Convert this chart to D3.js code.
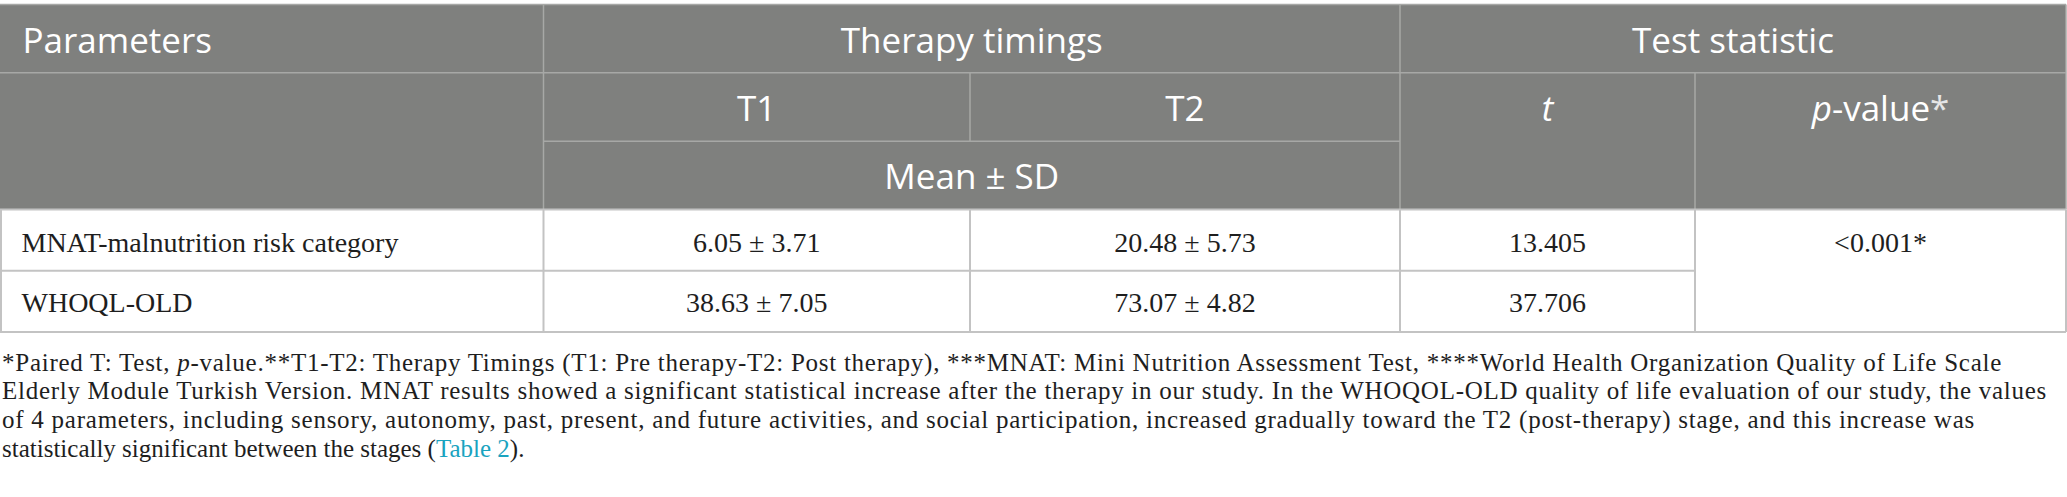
<!DOCTYPE html>
<html>
<head>
<meta charset="utf-8">
<script src="https://cdn.jsdelivr.net/npm/d3@7"></script>
<style>
  body { margin: 0; background: #fff; }
  svg { display: block; }
</style>
</head>
<body>
<div id="table"></div>
<script>
// table values
const parameters = ["MNAT-malnutrition risk category", "WHOQL-OLD"];
const t1Mean = [6.05, 38.63];
const t1SD = [3.71, 7.05];
const t2Mean = [20.48, 73.07];
const t2SD = [5.73, 4.82];
const tStat = [13.405, 37.706];
const pValue = "<0.001*";

const footnoteLines = [
  [["*Paired T: Test, "], ["p", "i"], ["-value.**T1-T2: Therapy Timings (T1: Pre therapy-T2: Post therapy), ***MNAT: Mini Nutrition Assessment Test, ****World Health Organization Quality of Life Scale"]],
  [["Elderly Module Turkish Version. MNAT results showed a significant statistical increase after the therapy in our study. In the WHOQOL-OLD quality of life evaluation of our study, the values"]],
  [["of 4 parameters, including sensory, autonomy, past, present, and future activities, and social participation, increased gradually toward the T2 (post-therapy) stage, and this increase was"]],
  [["statistically significant between the stages ("], ["Table 2", "link"], [")."]]
];
const footnoteEnds = [2002, 2047, 1975, null];

const width = 2067, height = 497;
const X = [1, 543.5, 970, 1400, 1695, 2066];
const Y = [4.5, 72.7, 141.3, 209.5, 270.7, 332];

const headFill = "#7f807e", headLine = "#a7a8a6", bodyLine = "#c3c3c3";
const sans = "'Open Sans', 'Noto Sans', sans-serif";
const serif = "'Liberation Serif', 'DejaVu Serif', serif";

const svg = d3.select("#table").append("svg")
    .attr("width", width)
    .attr("height", height);

// header background
svg.append("rect")
    .attr("x", 0).attr("y", Y[0])
    .attr("width", X[5]).attr("height", Y[3] - Y[0])
    .attr("fill", headFill);

const line = (x1, y1, x2, y2, c, w) => svg.append("line")
    .attr("x1", x1).attr("y1", y1).attr("x2", x2).attr("y2", y2)
    .attr("stroke", c).attr("stroke-width", w);

// header grid
line(0, Y[0], X[5], Y[0], headLine, 1.5);
line(0, Y[1], X[5], Y[1], headLine, 1.5);
line(X[1], Y[2], X[3], Y[2], headLine, 1.5);
line(X[1], Y[0], X[1], Y[3], headLine, 1.5);
line(X[3], Y[0], X[3], Y[3], headLine, 1.5);
line(X[5], Y[0], X[5], Y[3], headLine, 1.5);
line(X[2], Y[1], X[2], Y[2], headLine, 1.5);
line(X[4], Y[1], X[4], Y[3], headLine, 1.5);

// body grid
line(0, Y[3], X[5], Y[3], bodyLine, 2);
line(0, Y[4], X[4], Y[4], bodyLine, 2);
line(0, Y[5], X[5], Y[5], bodyLine, 2);
X.forEach(x => line(x, Y[3], x, Y[5], bodyLine, 2));

// header text
const head = [
  { t: "Parameters", x: 22.5, y: 53, a: "start" },
  { t: "Therapy timings", x: (X[1] + X[3]) / 2, y: 53 },
  { t: "Test statistic", x: (X[3] + X[5]) / 2, y: 53 },
  { t: "T1", x: (X[1] + X[2]) / 2, y: 121 },
  { t: "T2", x: (X[2] + X[3]) / 2, y: 121 },
  { t: "t", x: (X[3] + X[4]) / 2, y: 121, i: true },
  { t: "p-value*", x: (X[4] + X[5]) / 2, y: 121, p: true },
  { t: "Mean ± SD", x: (X[1] + X[3]) / 2, y: 189 }
];
head.forEach(h => {
  const tx = svg.append("text")
      .attr("x", h.x).attr("y", h.y)
      .attr("text-anchor", h.a || "middle")
      .attr("font-family", sans)
      .attr("font-size", 35)
      .attr("fill", "#fff");
  if (h.p) {
    tx.append("tspan").attr("font-style", "italic").text("p");
    tx.append("tspan").text("-value");
    tx.append("tspan").attr("fill", "#e6e6e6").text("*");
  } else {
    tx.text(h.t).attr("font-style", h.i ? "italic" : null);
  }
});

// body rows
const f2 = d3.format(".2f"), f3 = d3.format(".3f");
const rowY = [251.7, 311.7];
const rows = parameters.map((p, i) => ({
  p, y: rowY[i],
  t1: `${f2(t1Mean[i])} ± ${f2(t1SD[i])}`,
  t2: `${f2(t2Mean[i])} ± ${f2(t2SD[i])}`,
  t: f3(tStat[i])
}));

const bodyText = (x, y, s, anchor) => svg.append("text")
    .attr("x", x).attr("y", y)
    .attr("text-anchor", anchor)
    .attr("font-family", serif)
    .attr("font-size", 28)
    .attr("fill", "#1e1e1e")
    .text(s);

rows.forEach(r => {
  bodyText(21.5, r.y, r.p, "start");
  bodyText((X[1] + X[2]) / 2, r.y, r.t1, "middle");
  bodyText((X[2] + X[3]) / 2, r.y, r.t2, "middle");
  bodyText((X[3] + X[4]) / 2, r.y, r.t, "middle");
});
bodyText((X[4] + X[5]) / 2, rowY[0], pValue, "middle");

// footnote, stretched to the reference line ends
const footY = [370.7, 399.3, 428.3, 456.7];
footnoteLines.forEach((parts, i) => {
  const tx = svg.append("text")
      .attr("x", 2).attr("y", footY[i])
      .attr("font-family", serif)
      .attr("font-size", 25)
      .attr("fill", "#1e1e1e");
  parts.forEach(([s, k]) => {
    tx.append("tspan")
      .attr("font-style", k === "i" ? "italic" : null)
      .attr("fill", k === "link" ? "#1aa3bf" : null)
      .text(s);
  });
  const end = footnoteEnds[i];
  if (end) {
    const w = tx.node().getComputedTextLength();
    const n = tx.text().length;
    tx.attr("letter-spacing", ((end - 2) - w) / n);
  }
});
</script>
</body>
</html>
